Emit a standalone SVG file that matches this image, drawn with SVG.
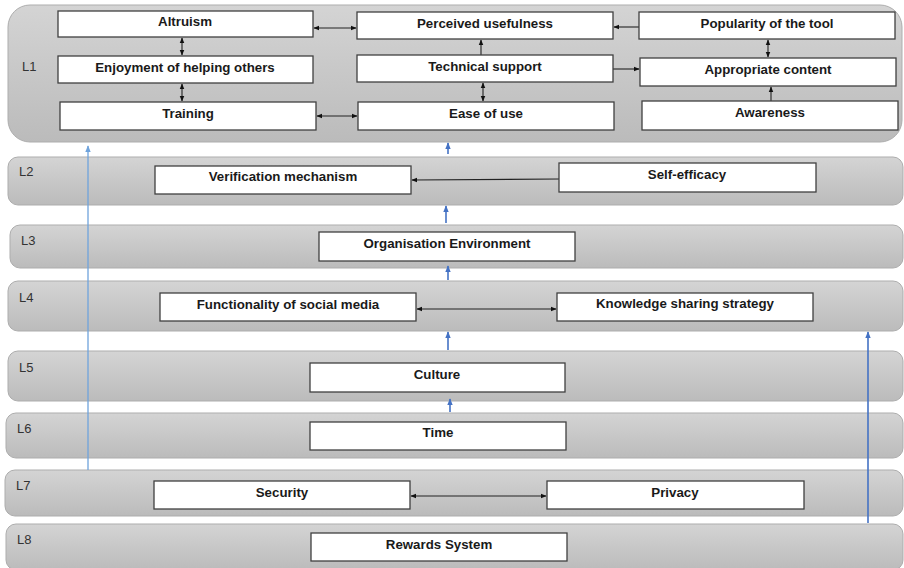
<svg xmlns="http://www.w3.org/2000/svg" width="904" height="568" viewBox="0 0 904 568">
  <defs>
    <linearGradient id="band" x1="0" y1="0" x2="0" y2="1">
      <stop offset="0" stop-color="#d4d4d4"/>
      <stop offset="1" stop-color="#bbbbbb"/>
    </linearGradient>
    <marker id="ah" viewBox="0 0 10 10" refX="9" refY="5" markerWidth="6" markerHeight="6" orient="auto-start-reverse" markerUnits="userSpaceOnUse">
      <path d="M0,1 L10,5 L0,9 z" fill="#111"/>
    </marker>
    <marker id="bh" viewBox="0 0 10 10" refX="9" refY="5" markerWidth="7" markerHeight="7" orient="auto" markerUnits="userSpaceOnUse">
      <path d="M0,1 L10,5 L0,9 z" fill="#4472c4"/>
    </marker>
    <marker id="lbh" viewBox="0 0 10 10" refX="9" refY="5" markerWidth="7" markerHeight="7" orient="auto" markerUnits="userSpaceOnUse">
      <path d="M0,1 L10,5 L0,9 z" fill="#6fa3dc"/>
    </marker>
  </defs>
  <style>
    .band { fill: url(#band); stroke: #adadad; stroke-width: 1; }
    .lvl { font-family: "Liberation Sans", Arial, sans-serif; font-size: 13px; fill: #333; }
    .box rect { fill: #fff; stroke: #404040; stroke-width: 1.3; }
    .box text { font-family: "Liberation Sans", Arial, sans-serif; font-size: 13.3px; font-weight: bold; fill: #1a1a1a; text-anchor: middle; }
    .c { stroke: #222; stroke-width: 1.1; fill: none; }
    .b { stroke: #4472c4; stroke-width: 1.6; fill: none; }
    .lb { stroke: #6fa3dc; stroke-width: 1.3; fill: none; }
  </style>

  <rect width="904" height="568" fill="#fff"/>

  <!-- level bands -->
  <g id="levels">
    <rect class="band" x="8" y="5" width="894" height="137" rx="22"/>
    <rect class="band" x="8" y="157" width="895" height="48" rx="10"/>
    <rect class="band" x="10" y="225" width="893" height="43" rx="10"/>
    <rect class="band" x="8" y="281" width="895" height="50" rx="10"/>
    <rect class="band" x="8" y="351" width="895" height="50" rx="10"/>
    <rect class="band" x="6" y="413" width="897" height="45" rx="10"/>
    <rect class="band" x="5" y="470" width="898" height="46" rx="10"/>
    <rect class="band" x="6" y="524" width="897" height="46" rx="10"/>
    <text class="lvl" x="22" y="71">L1</text>
    <text class="lvl" x="19" y="176">L2</text>
    <text class="lvl" x="21" y="245">L3</text>
    <text class="lvl" x="19" y="302">L4</text>
    <text class="lvl" x="19" y="372">L5</text>
    <text class="lvl" x="17" y="433">L6</text>
    <text class="lvl" x="16" y="490">L7</text>
    <text class="lvl" x="17" y="544">L8</text>
  </g>

  <!-- connectors -->
  <g id="connectors">
    <!-- L1 internal links -->
    <line class="c" x1="182" y1="38" x2="182" y2="55" marker-start="url(#ah)" marker-end="url(#ah)"/>
    <line class="c" x1="182" y1="84" x2="182" y2="101" marker-start="url(#ah)" marker-end="url(#ah)"/>
    <line class="c" x1="314" y1="28" x2="356" y2="28" marker-start="url(#ah)" marker-end="url(#ah)"/>
    <line class="c" x1="639" y1="27" x2="614" y2="27" marker-end="url(#ah)"/>
    <line class="c" x1="481" y1="55" x2="481" y2="40" marker-end="url(#ah)"/>
    <line class="c" x1="483" y1="83" x2="483" y2="101" marker-start="url(#ah)" marker-end="url(#ah)"/>
    <line class="c" x1="317" y1="116" x2="357" y2="116" marker-start="url(#ah)" marker-end="url(#ah)"/>
    <line class="c" x1="613" y1="69" x2="639" y2="69" marker-end="url(#ah)"/>
    <line class="c" x1="768" y1="40" x2="768" y2="57" marker-start="url(#ah)" marker-end="url(#ah)"/>
    <line class="c" x1="771" y1="101" x2="771" y2="87" marker-end="url(#ah)"/>
    <!-- same-level links -->
    <line class="c" x1="559" y1="179" x2="412" y2="180" marker-end="url(#ah)"/>
    <line class="c" x1="417" y1="309" x2="556" y2="309" marker-start="url(#ah)" marker-end="url(#ah)"/>
    <line class="c" x1="411" y1="496" x2="546" y2="496" marker-start="url(#ah)" marker-end="url(#ah)"/>
    <!-- upward links between levels -->
    <line class="b" x1="448" y1="154" x2="448" y2="143" marker-end="url(#bh)"/>
    <line class="b" x1="446" y1="223" x2="446" y2="206" marker-end="url(#bh)"/>
    <line class="b" x1="448" y1="280" x2="448" y2="266" marker-end="url(#bh)"/>
    <line class="b" x1="448" y1="350" x2="448" y2="332" marker-end="url(#bh)"/>
    <line class="b" x1="450" y1="412" x2="450" y2="399" marker-end="url(#bh)"/>
    <line class="lb" x1="88" y1="470" x2="88" y2="146" marker-end="url(#lbh)"/>
    <line class="b" x1="868" y1="523" x2="868" y2="332" marker-end="url(#bh)"/>
  </g>

  <!-- L1 nodes -->
  <g id="altruism" class="box"><rect x="58" y="11" width="255" height="26"/><text x="185" y="26">Altruism</text></g>
  <g id="enjoyment" class="box"><rect x="58" y="56" width="255" height="27"/><text x="185" y="72">Enjoyment of helping others</text></g>
  <g id="training" class="box"><rect x="60" y="102" width="256" height="28"/><text x="188" y="118">Training</text></g>
  <g id="perceived-usefulness" class="box"><rect x="357" y="12" width="256" height="27"/><text x="485" y="28">Perceived usefulness</text></g>
  <g id="technical-support" class="box"><rect x="357" y="55" width="256" height="27"/><text x="485" y="71">Technical support</text></g>
  <g id="ease-of-use" class="box"><rect x="358" y="102" width="256" height="28"/><text x="486" y="118">Ease of use</text></g>
  <g id="popularity" class="box"><rect x="639" y="12" width="256" height="27"/><text x="767" y="28">Popularity of the tool</text></g>
  <g id="appropriate-content" class="box"><rect x="640" y="58" width="256" height="28"/><text x="768" y="74">Appropriate content</text></g>
  <g id="awareness" class="box"><rect x="642" y="101" width="256" height="29"/><text x="770" y="117">Awareness</text></g>

  <!-- L2 -->
  <g id="verification" class="box"><rect x="155" y="166" width="256" height="28"/><text x="283" y="181">Verification mechanism</text></g>
  <g id="self-efficacy" class="box"><rect x="559" y="163" width="257" height="29"/><text x="687" y="179">Self-efficacy</text></g>

  <!-- L3 -->
  <g id="organisation" class="box"><rect x="319" y="232" width="256" height="29"/><text x="447" y="248">Organisation Environment</text></g>

  <!-- L4 -->
  <g id="functionality" class="box"><rect x="160" y="293" width="256" height="28"/><text x="288" y="309">Functionality of social media</text></g>
  <g id="knowledge-sharing" class="box"><rect x="557" y="293" width="256" height="28"/><text x="685" y="308">Knowledge sharing strategy</text></g>

  <!-- L5 -->
  <g id="culture" class="box"><rect x="310" y="363" width="255" height="29"/><text x="437" y="379">Culture</text></g>

  <!-- L6 -->
  <g id="time" class="box"><rect x="310" y="422" width="256" height="28"/><text x="438" y="437">Time</text></g>

  <!-- L7 -->
  <g id="security" class="box"><rect x="154" y="481" width="256" height="28"/><text x="282" y="497">Security</text></g>
  <g id="privacy" class="box"><rect x="547" y="481" width="257" height="28"/><text x="675" y="497">Privacy</text></g>

  <!-- L8 -->
  <g id="rewards" class="box"><rect x="311" y="533" width="256" height="28"/><text x="439" y="549">Rewards System</text></g>
</svg>
